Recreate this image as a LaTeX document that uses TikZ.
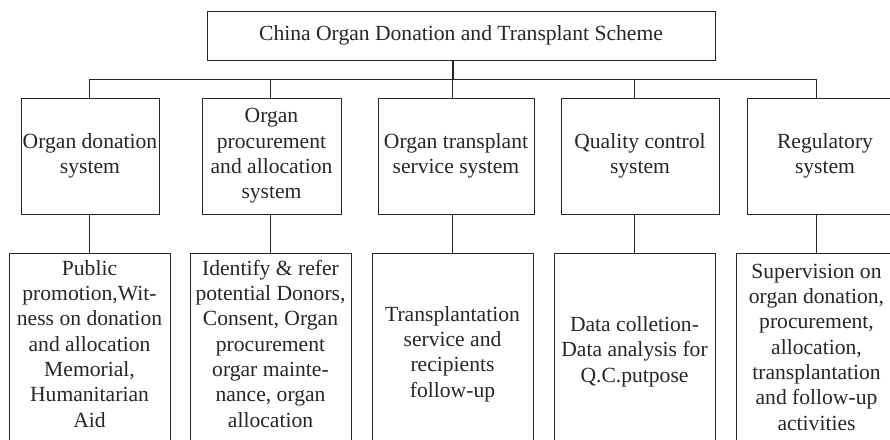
\documentclass[tikz,border=0pt]{standalone}
\usepackage{fontspec}
\setmainfont{Liberation Serif}
\usetikzlibrary{positioning, calc}

\begin{document}
\begin{tikzpicture}[x=1pt,y=-1pt,
    every node/.style={font=\fontsize{21.6}{25.3}\selectfont,text=black!85},
    topbox/.style={draw=black!85,line width=0.9pt,inner sep=0pt,minimum width=508pt,minimum height=49pt},
    midbox/.style={draw=black!85,line width=0.9pt,inner sep=0pt,align=center,minimum height=116pt},
    lowbox/.style={draw=black!85,line width=0.9pt,inner sep=0pt,minimum width=161pt,minimum height=200pt,anchor=north},
    lowtext/.style={align=center,anchor=base,inner sep=0pt},
    link/.style={draw=black!85,line width=0.9pt}]
    \useasboundingbox (0,0) rectangle (890,439);
    \clip (0,0) rectangle (890,439);

    % scheme on top
    \node[topbox] (top) at (461,35.5) {China Organ Donation and Transplant Scheme};
    \coordinate (bus) at (453,79);

    % the five systems
    \node[midbox,minimum width=138pt] (m1) at (90,156) {Organ donation\\system};
    \node[midbox,minimum width=139pt] (m2) at (271.5,156) {Organ\\procurement\\and allocation\\system};
    \node[midbox,minimum width=156pt] (m3) at (456,156) {Organ transplant\\service system};
    \node[midbox,minimum width=158pt] (m4) at (640,156) {Quality control\\system};
    \node[midbox,minimum width=156pt] (m5) at (825,156) {Regulatory\\system};

    % what each of them does
    \node[lowbox] (d1) at (89.5,253) {};
    \node[lowbox] (d2) at (270.5,253) {};
    \node[lowbox] (d3) at (452.5,253) {};
    \node[lowbox] (d4) at (634.5,253) {};
    \node[lowbox] (d5) at (816.5,253) {};

    % base = last line
    \node[lowtext] (t1) at (89.5,427) {Public\\promotion,Wit-\\ness on donation\\and allocation\\Memorial,\\Humanitarian\\Aid};
    \node[lowtext] (t2) at (270.5,427) {Identify \& refer\\potential Donors,\\Consent, Organ\\procurement\\orgar mainte-\\nance, organ\\allocation};
    \node[lowtext] (t3) at (452.5,397) {Transplantation\\service and\\recipients\\follow-up};
    \node[lowtext] (t4) at (634.5,382) {Data colletion-\\Data analysis for\\Q.C.putpose};
    \node[lowtext] (t5) at (816.5,430) {Supervision on\\organ donation,\\procurement,\\allocation,\\transplantation\\and follow-up\\activities};

    % connectors
    \draw[link,line width=1.6pt] (top.south -| bus) -- (bus);
    \draw[link] (bus -| d1.north) -- (bus -| d5.north);
    \foreach \i in {1,...,5} {
      \draw[link] (bus -| d\i.north) -- (m\i.north -| d\i.north);
      \draw[link] (m\i.south -| d\i.north) -- (d\i.north);
    }
\end{tikzpicture}
\end{document}
